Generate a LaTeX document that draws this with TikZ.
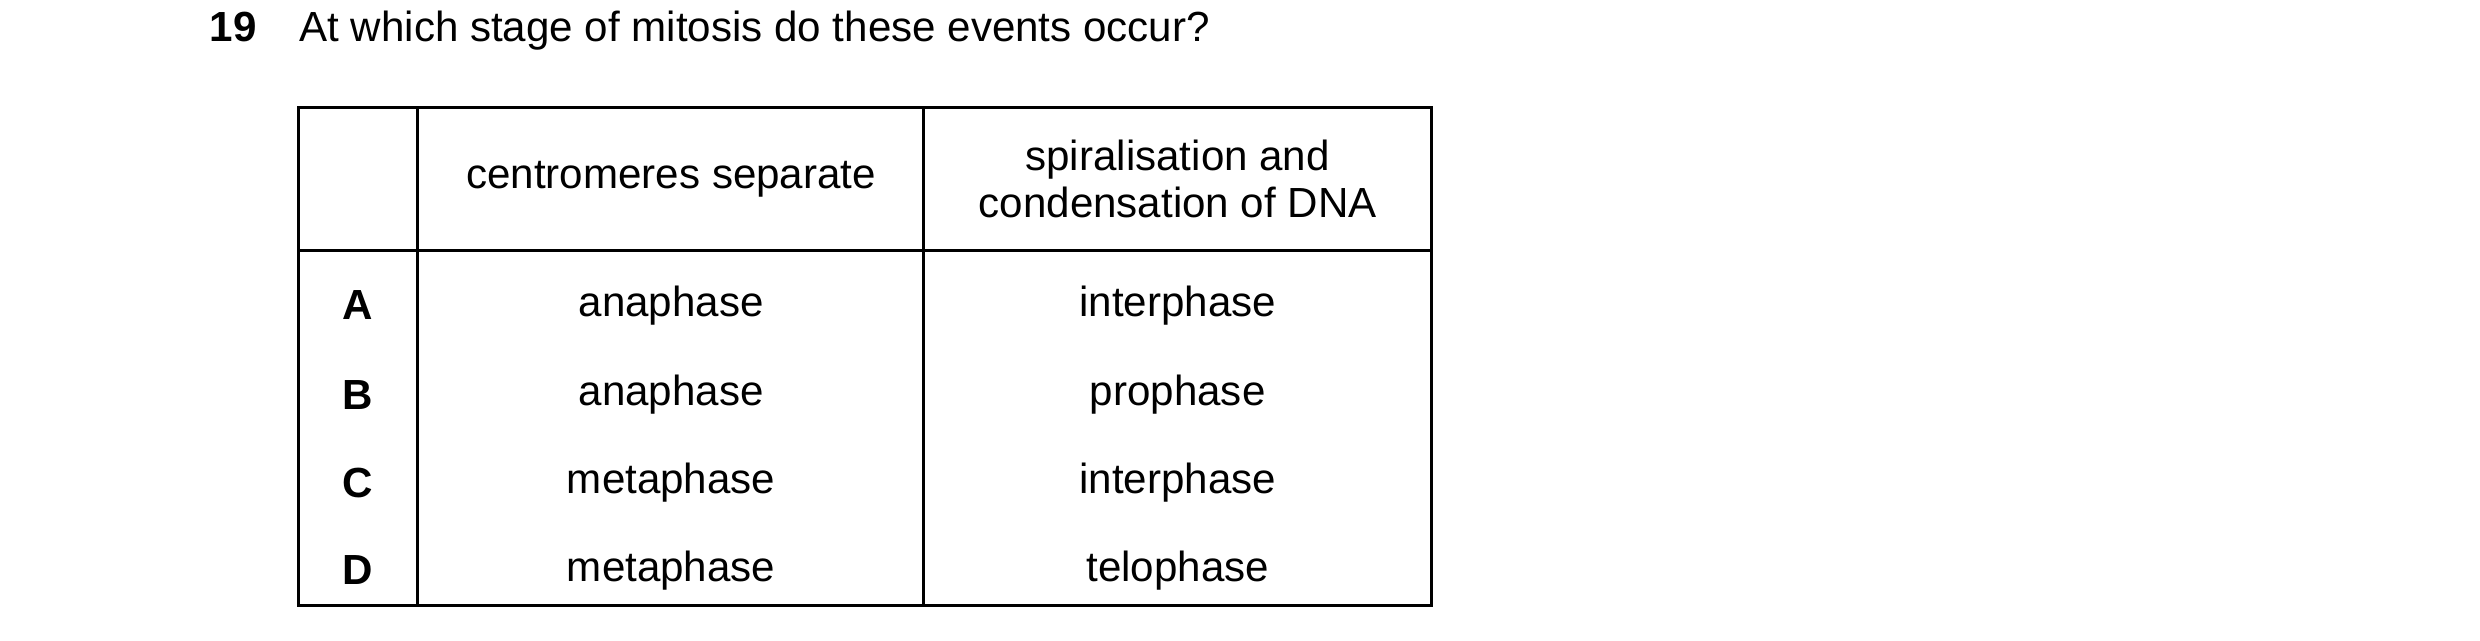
\documentclass[tikz,border=0pt]{standalone}
\usepackage{fontspec}
\setmainfont{Liberation Sans}
\begin{document}
\begin{tikzpicture}[x=0.02cm,y=-0.02cm,
  every node/.style={font=\fontsize{15}{18}\selectfont,inner sep=0pt},
  ln/.style={line width=1.1pt}]
\useasboundingbox (0,0) rectangle (1552,401);
\node[anchor=base west] (num) at (131,26) {\textbf{19}};
\node[anchor=base west] (q) at (187,26) {At which stage of mitosis do these events occur?};
\draw[ln] (187,67) rectangle (896,379);
\draw[ln] (261,67) -- (261,379);
\draw[ln] (578,67) -- (578,379);
\draw[ln] (187,157) -- (896,157);
\node (h1) at (420,112) {centromeres separate};
\node[align=center,font=\fontsize{15}{16.5}\selectfont] (h2) at (737,112) {spiralisation and\\condensation of DNA};
\foreach \l/\a/\b/\y in {A/anaphase/interphase/191,B/anaphase/prophase/247,C/metaphase/interphase/302,D/metaphase/telophase/357}{
  \node (l\l) at (224,\y) {\textbf{\l}};
  \node (a\l) at (420,\y) {\a};
  \node (b\l) at (737,\y) {\b};
}
\end{tikzpicture}
\end{document}
